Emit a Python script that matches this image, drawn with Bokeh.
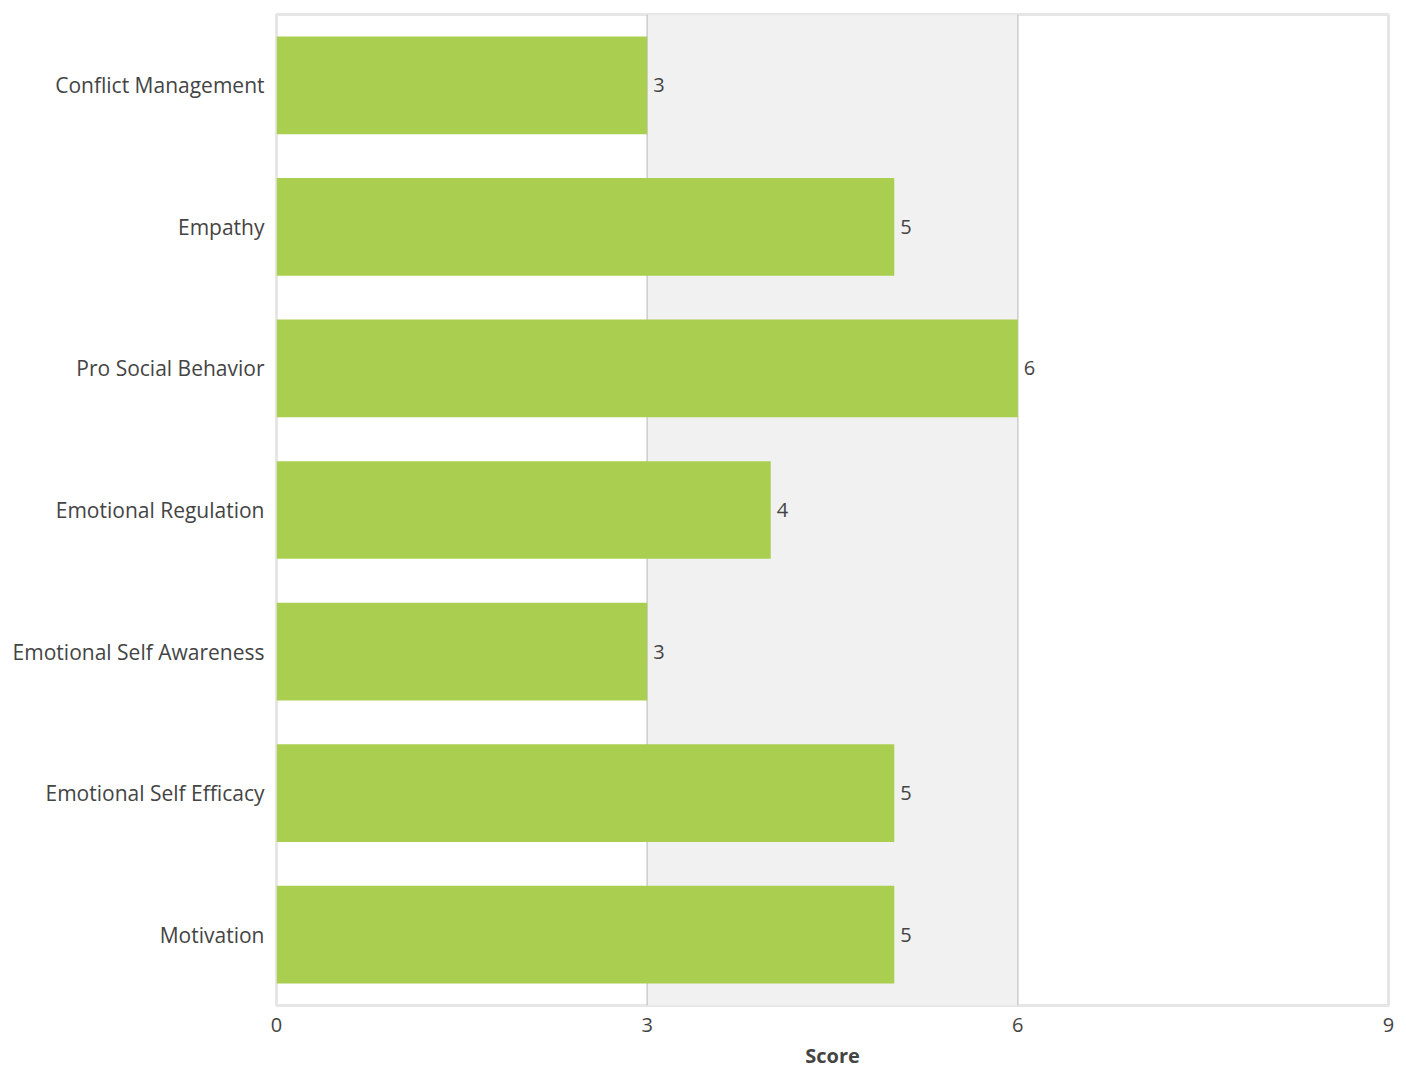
from bokeh.plotting import figure
from bokeh.models import ColumnDataSource, FactorRange, FixedTicker, BoxAnnotation, Span, LabelSet, Range1d
from bokeh.core.properties import value
from bokeh.embed import file_html
from bokeh.resources import INLINE

categories = ["Conflict Management", "Empathy", "Pro Social Behavior", "Emotional Regulation",
              "Emotional Self Awareness", "Emotional Self Efficacy", "Motivation"]
scores = [3, 5, 6, 4, 3, 5, 5]
x_ticks = [0, 3, 6, 9]
band = [3, 6]

FONT = "Open Sans"

src = ColumnDataSource(dict(cat=categories, score=scores, label=[str(s) for s in scores]))

p = figure(y_range=FactorRange(*reversed(categories), range_padding=0),
           x_range=Range1d(0, 9),
           min_border_left=276, min_border_right=14, min_border_top=14, min_border_bottom=62,
           output_backend="svg", toolbar_location=None)
p.frame_width = 1112
p.frame_height = 991

p.background_fill_color = "white"
p.border_fill_color = "white"
p.outline_line_color = "#e6e6e6"
p.outline_line_width = 3

box = BoxAnnotation(left=band[0], right=band[1], fill_color="#f1f1f1", fill_alpha=1.0,
                    line_color=None, level="underlay")
p.add_layout(box)
for t in x_ticks[1:-1]:
    p.add_layout(Span(location=t, dimension="height", line_color="#cccccc", line_width=1.5,
                      level="underlay"))

p.hbar(y="cat", right="score", left=0, height=0.69, source=src,
       fill_color="#aacf50", line_color=None)

labels = LabelSet(x="score", y="cat", text="label", source=src, x_offset=6,
                  text_baseline="middle", text_align="left",
                  text_font=value(FONT), text_font_size="20px", text_color="#444444")
p.add_layout(labels)

p.xgrid.visible = False
p.ygrid.visible = False

p.xaxis.ticker = FixedTicker(ticks=x_ticks)
p.xaxis.axis_line_color = None
p.xaxis.major_tick_line_color = None
p.xaxis.minor_tick_line_color = None
p.xaxis.major_label_text_font = FONT
p.xaxis.major_label_text_font_size = "20px"
p.xaxis.major_label_text_color = "#444444"
p.xaxis.major_label_standoff = 6
p.xaxis.axis_label = "Score"
p.xaxis.axis_label_text_font = FONT
p.xaxis.axis_label_text_font_style = "bold"
p.xaxis.axis_label_text_font_size = "20px"
p.xaxis.axis_label_text_color = "#444444"
p.xaxis.axis_label_standoff = 7

p.yaxis.axis_line_color = None
p.yaxis.major_tick_line_color = None
p.yaxis.minor_tick_line_color = None
p.yaxis.major_label_text_font = FONT
p.yaxis.major_label_text_font_size = "21px"
p.yaxis.major_label_text_color = "#444444"
p.yaxis.major_label_standoff = 6

open("out.html", "w").write(file_html(p, INLINE))
